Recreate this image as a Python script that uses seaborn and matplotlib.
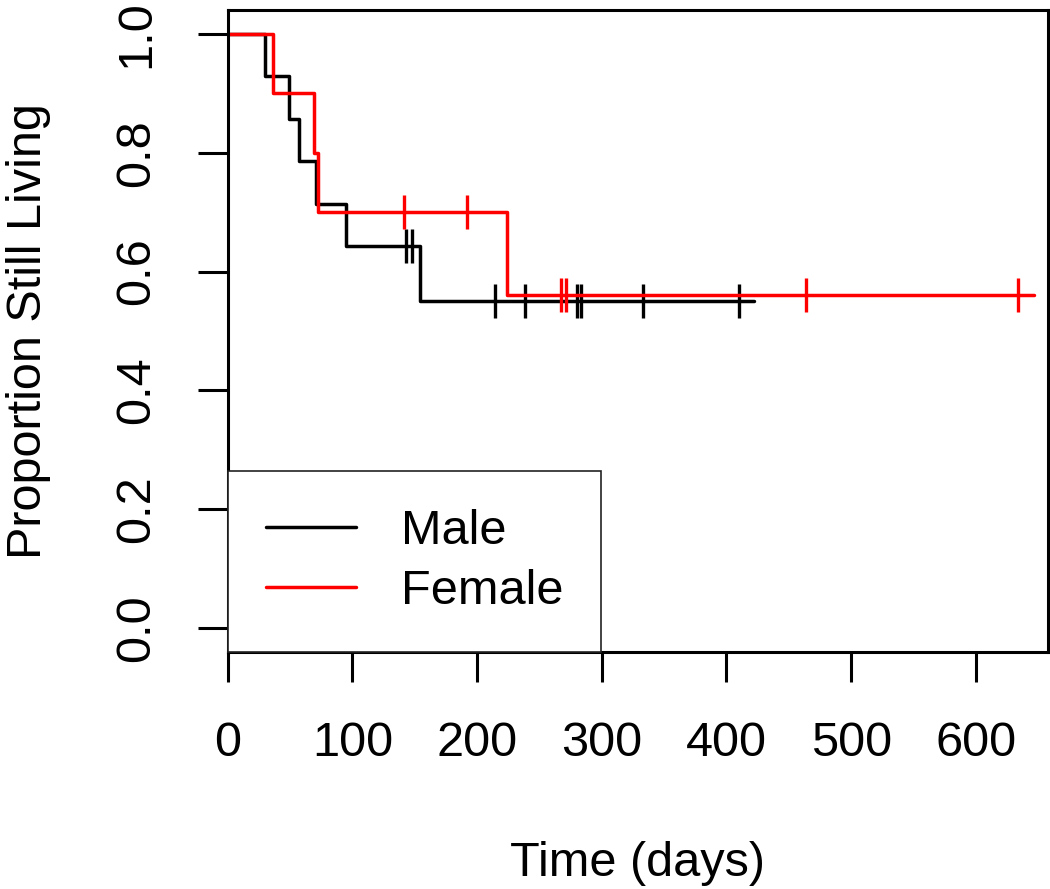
import numpy as np
import pandas as pd
import matplotlib
matplotlib.use("Agg")
import matplotlib.pyplot as plt
import seaborn as sns

# ---------- Data ----------
male_times = [0, 30, 49, 57, 71, 95, 154, 422]
male_surv = [1.0, 0.929, 0.857, 0.786, 0.714, 0.643, 0.551, 0.551]
male_censor = [143, 148, 214, 238, 280, 283, 333, 410]

female_times = [0, 36, 69, 72, 224, 647]
female_surv = [1.0, 0.9, 0.8, 0.7, 0.56, 0.56]
female_censor = [141, 192, 267, 271, 464, 634]

x_ticks = [0, 100, 200, 300, 400, 500, 600]
y_ticks = [0.0, 0.2, 0.4, 0.6, 0.8, 1.0]

# ---------- Setup ----------
sns.set_theme(style="white")
plt.rcParams["font.family"] = ["Liberation Sans", "DejaVu Sans"]
plt.rcParams["text.color"] = "black"
plt.rcParams["axes.labelcolor"] = "black"
plt.rcParams["xtick.color"] = "black"
plt.rcParams["ytick.color"] = "black"
FS = 35

fig = plt.figure(figsize=(10.5, 8.89), dpi=100)
ax = fig.add_axes([0.2169, 0.2666, 0.9978 - 0.2169, 0.9888 - 0.2666])


def surv_at(times, surv, t):
    # value of the step curve at time t
    idx = np.searchsorted(times, t, side="right") - 1
    return np.asarray(surv)[idx]


curves = [
    ("Male", male_times, male_surv, male_censor, "black"),
    ("Female", female_times, female_surv, female_censor, "#ff0000"),
]

for name, t, s, cens, col in curves:
    df = pd.DataFrame({"time": t, "surv": s})
    sns.lineplot(data=df, x="time", y="surv", drawstyle="steps-post",
                 color=col, lw=2.5, estimator=None, sort=False, ax=ax, label=name)
    cdf = pd.DataFrame({"time": cens, "surv": surv_at(t, s, cens)})
    ax.plot(cdf["time"], cdf["surv"], ls="none", marker="|", ms=24,
            mew=2.4, color=col)

# ---------- Axes ----------
ax.set_xlim(0, 657.6)
ax.set_ylim(-0.0404, 1.0404)
ax.set_xticks(x_ticks)
ax.set_xticklabels([str(v) for v in x_ticks], fontsize=FS)
ax.set_yticks(y_ticks)
ax.set_yticklabels([f"{v:.1f}" for v in y_ticks], fontsize=FS,
                   rotation=90, va="center")
ax.tick_params(axis="both", direction="out", length=21.5, width=2.2,
               color="black", pad=28, left=True, bottom=True)
for sp in ax.spines.values():
    sp.set_visible(True)
    sp.set_color("black")
    sp.set_linewidth(2.2)

ax.set_xlabel("Time (days)", fontsize=FS, labelpad=54)
ax.set_ylabel("Proportion Still Living", fontsize=FS, labelpad=45)
ax.grid(False)

leg = ax.legend(loc="lower left", bbox_to_anchor=(0, 0), borderaxespad=0,
                fontsize=FS, frameon=True, fancybox=False, framealpha=1,
                edgecolor="#222222", borderpad=0.78, labelspacing=0.31,
                handlelength=1.86, handletextpad=0.92)
leg.get_frame().set_linewidth(1.2)
for h in leg.get_lines():
    h.set_linewidth(2.5)

fig.savefig("out.png", dpi=100)
